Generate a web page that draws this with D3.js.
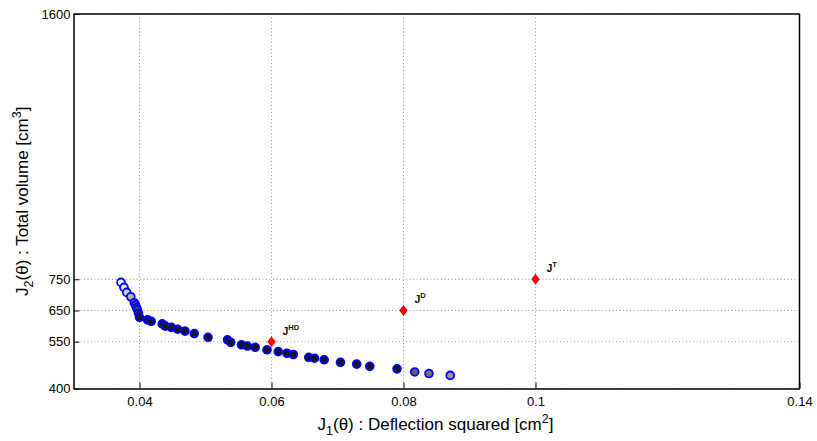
<!DOCTYPE html>
<html><head><meta charset="utf-8">
<script src="https://cdn.jsdelivr.net/npm/d3@7"></script>
<style>body{margin:0;background:#fff}svg{display:block}text{font-family:"Liberation Sans",Arial,sans-serif}</style>
</head><body><svg id="c" width="817" height="441"></svg>
<script>
const xTicks=[0.04,0.06,0.08,0.1,0.14];
const yTicks=[400,550,650,750,1600];
const j1=[0.03720,0.03765,0.03806,0.03868,0.03921,0.03940,0.03955,0.03970,0.03985,0.04000,0.04121,0.04177,0.04344,0.04391,0.04482,0.04576,0.04689,0.04830,0.05038,0.05333,0.05382,0.05545,0.05636,0.05753,0.05932,0.06102,0.06235,0.06330,0.06564,0.06652,0.06798,0.07045,0.07291,0.07489,0.07902,0.08170,0.08386,0.08708];
const j2=[740,724,708,694,675,667,659,652,641,628,620,615,607,600,596,590,584,576,564,556,548,540,536,532,524,518,513,509,500,497,492,484,478,471,463,453,448,442];
const shade=[1.0,0.85,0.72,0.6,0.48,0.38,0.3,0.22,0.14,0.08,0.07,0.07,0.07,0.07,0.07,0.07,0.07,0.07,0.07,0.07,0.07,0.07,0.07,0.07,0.07,0.07,0.07,0.07,0.07,0.07,0.07,0.07,0.07,0.07,0.07,0.3,0.38,0.5];
const refNames=["HD","D","T"];
const refJ1=[0.06,0.08,0.1];
const refJ2=[550,650,750];

const svg=d3.select("#c");
const L=73.5,R=799.5,T=14,B=388.5;
const x=d3.scaleLinear().domain([0.03,0.14]).range([L,R]);
const y=d3.scaleLinear().domain([400,1600]).range([B,T]);

// grid
const g=svg.append("g");
g.selectAll(".gx").data(xTicks).enter().append("line")
 .attr("x1",d=>x(d)).attr("x2",d=>x(d)).attr("y1",T).attr("y2",B)
 .attr("stroke","#999").attr("stroke-width",1).attr("stroke-dasharray","1,2.5");
g.selectAll(".gy").data(yTicks).enter().append("line")
 .attr("x1",L).attr("x2",R).attr("y1",d=>y(d)).attr("y2",d=>y(d))
 .attr("stroke","#999").attr("stroke-width",1).attr("stroke-dasharray","1,2.5");

// axes
const xa=svg.append("g").attr("transform",`translate(0,${B})`)
 .call(d3.axisBottom(x).tickValues(xTicks).tickSizeInner(-6).tickSizeOuter(0).tickPadding(8).tickFormat(d=>String(d)));
const ya=svg.append("g").attr("transform",`translate(${L},0)`)
 .call(d3.axisLeft(y).tickValues(yTicks).tickSizeInner(-6).tickSizeOuter(0).tickPadding(3).tickFormat(d=>String(d)));
[xa,ya].forEach(a=>{a.selectAll("text").attr("font-size",13).attr("fill","#000").style("font-family","Liberation Sans, Arial, sans-serif");
 a.select(".domain").attr("stroke","#000").attr("stroke-width",1.5);
 a.selectAll(".tick line").attr("stroke","#000");});
// top / right box
svg.append("line").attr("x1",L).attr("x2",R).attr("y1",T).attr("y2",T).attr("stroke","#000").attr("stroke-width",1.5);
svg.append("line").attr("x1",R).attr("x2",R).attr("y1",T).attr("y2",B).attr("stroke","#000").attr("stroke-width",1.5);

// points
const pts=j1.map((v,i)=>({x:v,y:j2[i],s:shade[i]}));
svg.append("g").selectAll("circle").data(pts).enter().append("circle")
 .attr("cx",d=>x(d.x)).attr("cy",d=>y(d.y)).attr("r",3.9)
 .attr("fill",d=>d3.interpolateGreys(1-d.s)).attr("stroke","#0000ff").attr("stroke-width",1.8);

// reference diamonds
const refs=refNames.map((n,i)=>({n:n,x:refJ1[i],y:refJ2[i]}));
svg.append("g").selectAll("path").data(refs).enter().append("path")
 .attr("transform",d=>`translate(${x(d.x)},${y(d.y)})`)
 .attr("d","M0,-5.5L4.2,0L0,5.5L-4.2,0Z").attr("fill","#ff0000");
const lab=svg.append("g").selectAll("text").data(refs).enter().append("text")
 .attr("x",d=>x(d.x)+11).attr("y",d=>y(d.y)-7).attr("font-size",10.5).attr("font-weight","bold").attr("fill","#111");
lab.append("tspan").text("J");
lab.append("tspan").attr("font-size",7.5).attr("dy",-5).text(d=>d.n);

// axis titles
const xt=svg.append("text").attr("x",(L+R)/2-1).attr("y",430).attr("text-anchor","middle").attr("font-size",17).attr("fill","#000");
xt.append("tspan").text("J");
xt.append("tspan").attr("font-size",12.5).attr("dy",5).text("1");
xt.append("tspan").attr("dy",-5).text("(θ) : Deflection squared [cm");
xt.append("tspan").attr("font-size",12.5).attr("dy",-7).text("2");
xt.append("tspan").attr("dy",7).text("]");
const yt=svg.append("text").attr("transform",`translate(28,${(T+B)/2}) rotate(-90)`).attr("text-anchor","middle").attr("font-size",17).attr("fill","#000");
yt.append("tspan").text("J");
yt.append("tspan").attr("font-size",12.5).attr("dy",5).text("2");
yt.append("tspan").attr("dy",-5).text("(θ) : Total volume [cm");
yt.append("tspan").attr("font-size",12.5).attr("dy",-7).text("3");
yt.append("tspan").attr("dy",7).text("]");
</script></body></html>
